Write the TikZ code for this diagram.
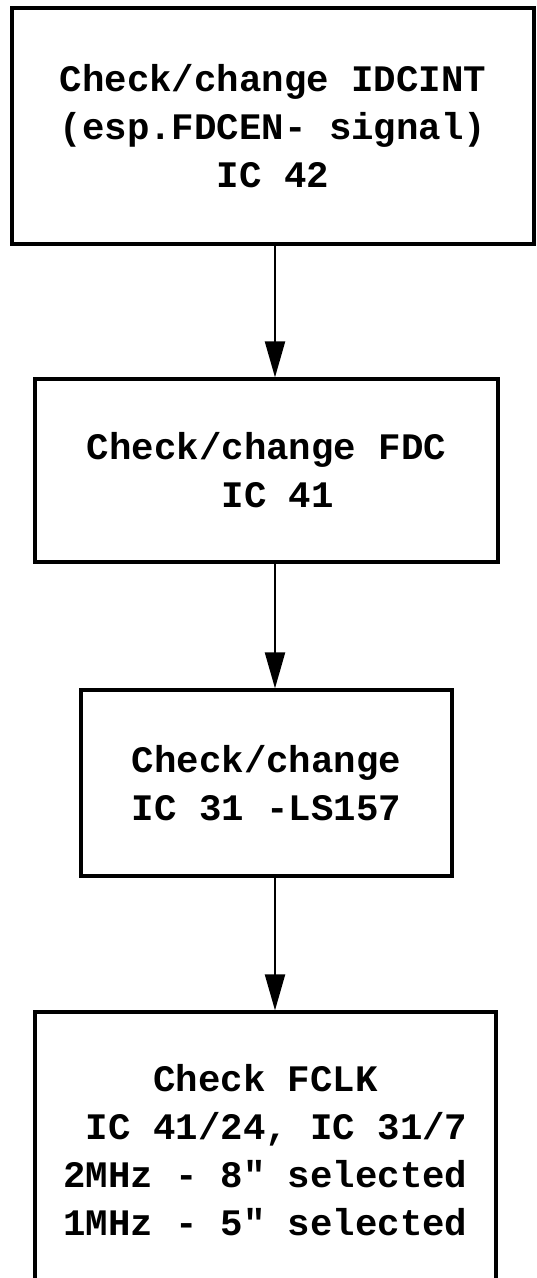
\documentclass[tikz,border=0pt]{standalone}
\usepackage{fontspec}
\setmonofont{Liberation Mono}
\usetikzlibrary{arrows.meta}

\begin{document}
\begin{tikzpicture}[%
      x=0.5pt, y=-0.5pt,
      box/.style={draw, line width=1.6pt, inner sep=0pt, align=center,
        font=\ttfamily\bfseries\fontsize{18.7}{24}\selectfont},
      flow/.style={line width=1.1pt, -{Triangle[length=18pt,width=10pt]}},
      ]
      \useasboundingbox (0,0) rectangle (536,1278);
      \clip (0,0) rectangle (536,1278);

      \node[box, minimum width=261pt, minimum height=118pt] (idcint) at (273,126)
        {Check/change IDCINT\\(esp.FDCEN- signal)\\IC 42};
      \node[box, minimum width=231.5pt, minimum height=91.5pt] (fdc) at (266.5,470.5)
        {Check/change FDC\\\ IC 41};
      \node[box, minimum width=185.5pt, minimum height=93pt] (ls157) at (266.5,783)
        {Check/change\\IC 31 -LS157};
      \node[box, minimum width=230.5pt, minimum height=138pt] (fclk) at (265.5,1150)
        {Check FCLK\\\ IC 41/24, IC 31/7\\2MHz - 8" selected\\1MHz - 5" selected};

      \coordinate (ax) at (275,0);
      \draw[flow] (idcint.south -| ax) -- (fdc.north -| ax);
      \draw[flow] (fdc.south -| ax) -- (ls157.north -| ax);
      \draw[flow] (ls157.south -| ax) -- (fclk.north -| ax);
      \end{tikzpicture}
\end{document}
